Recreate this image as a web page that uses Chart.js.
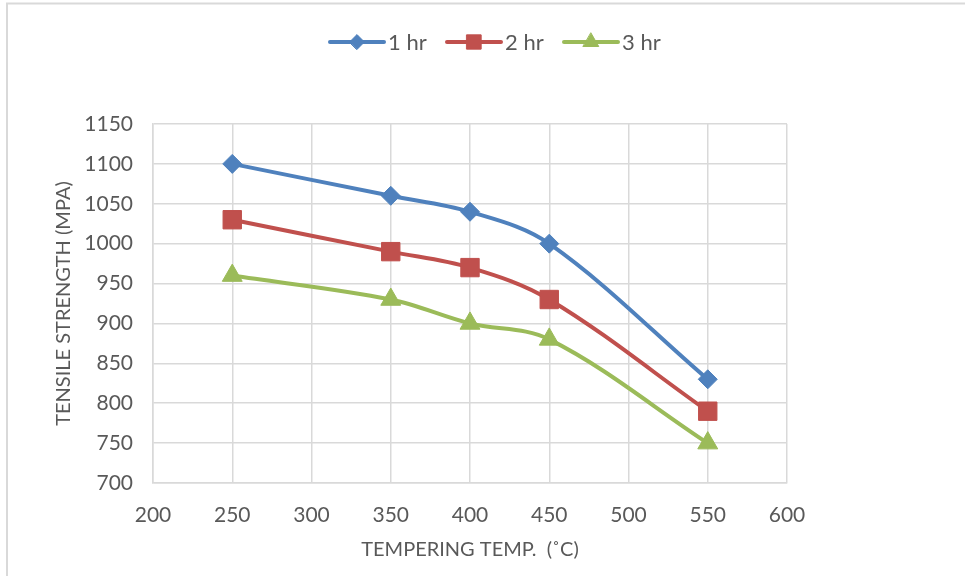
<!DOCTYPE html>
<html><head><meta charset="utf-8">
<script src="https://cdn.jsdelivr.net/npm/chart.js@4.4.1/dist/chart.umd.min.js"></script>
<style>html,body{margin:0;padding:0;background:#fff;}#wrap{width:965px;height:576px;position:relative;}</style>
</head><body><div id="wrap"><canvas id="c" width="965" height="576"></canvas></div>
<script>
const temps = [250, 350, 400, 450, 550];
const hr1 = [1100, 1060, 1040, 1000, 830];
const hr2 = [1030, 990, 970, 930, 790];
const hr3 = [960, 930, 900, 880, 750];
const seriesNames = ['1 hr', '2 hr', '3 hr'];
const xTitle = 'TEMPERING TEMP.  (˚C)';
const yTitle = 'TENSILE STRENGTH (MPA)';

const colors = ['#4F81BD', '#C0504D', '#9BBB59'];
const styles = ['rectRot', 'rect', 'triangle'];
const radii = [9.5, 13, 11.5];
const FONT = 'Lato, "Open Sans", sans-serif';

function pts(ys){ return temps.map((t,i)=>({x:t,y:ys[i]})); }
const all = [hr1, hr2, hr3];

const legendPlugin = {
  id: 'customLegend',
  afterDraw(chart){
    const ctx = chart.ctx;
    ctx.save();
    ctx.strokeStyle = '#d9d9d9'; ctx.lineWidth = 2;
    ctx.strokeRect(7, 3.5, 2000, 2000);
    const starts = [330, 447, 564];
    const y = 42;
    starts.forEach((x0,i)=>{
      ctx.strokeStyle = colors[i]; ctx.lineWidth = 4; ctx.lineCap='round';
      ctx.beginPath(); ctx.moveTo(x0, y); ctx.lineTo(x0+54, y); ctx.stroke();
      ctx.fillStyle = colors[i]; ctx.strokeStyle = colors[i]; ctx.lineWidth = 1;
      Chart.helpers.drawPoint(ctx, {pointStyle: styles[i], radius: radii[i]*0.78, borderWidth: 1}, x0+27, y);
      ctx.fillStyle='#595959';
      ctx.font = '22px ' + FONT;
      ctx.textBaseline = 'middle';
      ctx.textAlign = 'left';
      ctx.fillText(seriesNames[i], x0+58, y+1);
    });
    ctx.restore();
  }
};

new Chart(document.getElementById('c'), {
  type: 'scatter',
  data: {
    datasets: all.map((ys,i)=>({
      label: seriesNames[i],
      data: pts(ys),
      showLine: true,
      borderColor: colors[i],
      backgroundColor: colors[i],
      borderWidth: 4,
      tension: 0.35,
      pointStyle: styles[i],
      pointRadius: radii[i],
      pointBorderWidth: 1
    }))
  },
  options: {
    responsive: false,
    animation: false,
    layout: { padding: { left: 52, top: 124, right: 178, bottom: 0 } },
    plugins: { legend: { display: false }, tooltip: { enabled: false } },
    scales: {
      x: {
        type: 'linear', min: 200, max: 600,
        ticks: { stepSize: 50, color: '#595959', font: { family: FONT, size: 21 }, padding: 20, callback: v => String(v) },
        grid: { color: '#d9d9d9', lineWidth: 1.5, drawTicks: false },
        border: { color: '#d9d9d9', width: 1.5 },
        title: { display: true, text: xTitle, color: '#595959', font: { family: FONT, size: 20 }, padding: { top: 12, bottom: 14 } },
        afterFit(s){ s.height = 93; }
      },
      y: {
        type: 'linear', min: 700, max: 1150,
        ticks: { stepSize: 50, color: '#595959', font: { family: FONT, size: 21 }, padding: 20, callback: v => String(v) },
        grid: { color: '#d9d9d9', lineWidth: 1.5, drawTicks: false },
        border: { color: '#d9d9d9', width: 1.5 },
        title: { display: true, text: yTitle, color: '#595959', font: { family: FONT, size: 20 }, padding: { top: 0, bottom: 0 } },
        afterFit(s){ s.width = 101; }
      }
    }
  },
  plugins: [legendPlugin]
});
</script>
</body></html>
